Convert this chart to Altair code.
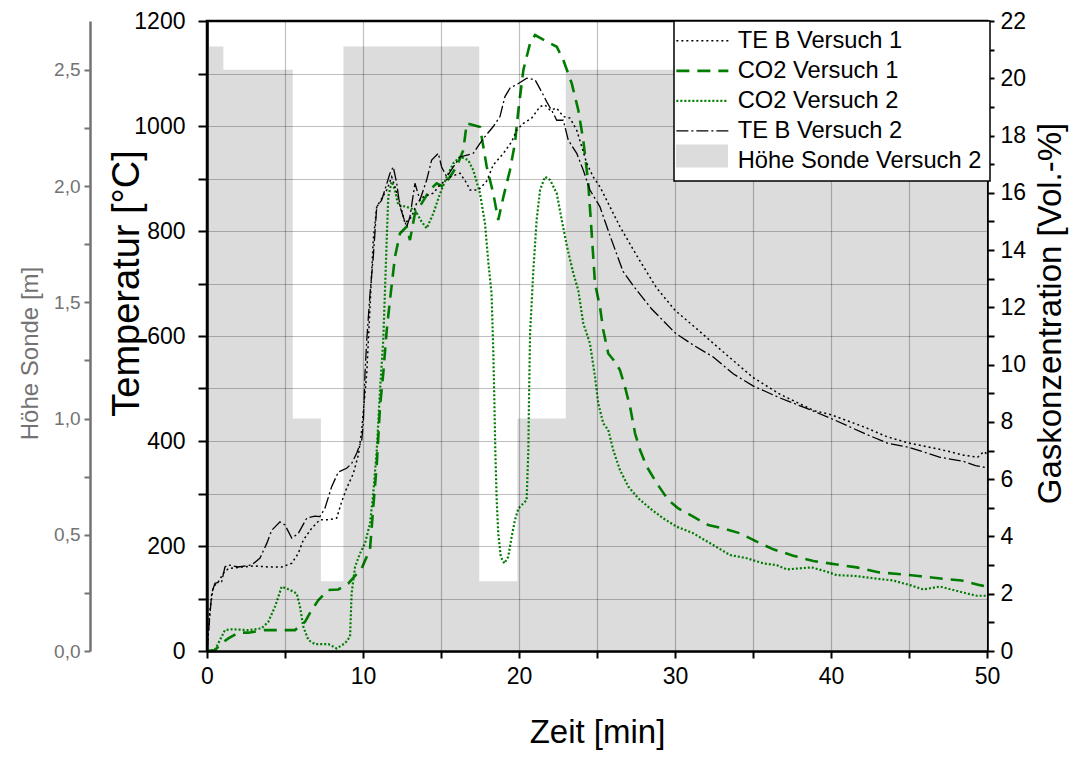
import altair as alt
import pandas as pd

# ---------------- data ----------------
te1_t = [0, 0.19, 0.4, 0.73, 1.05, 1.37, 2.22, 3.08, 3.93, 4.79, 5.43, 5.85, 6.17, 6.71, 7.24, 7.78, 8.31, 8.63, 8.95, 9.38,
         9.7, 9.92, 10.24, 10.45, 10.66, 10.88, 11.2, 11.52, 11.84, 12.26, 12.69, 13.12, 13.44, 13.87, 14.5, 14.94, 15.58, 16.22,
         16.65, 16.86, 17.4, 17.93, 18.35, 19.0, 19.53, 19.85, 20.28, 20.81, 21.35, 21.67, 21.99, 22.42, 22.84, 23.27, 23.7,
         24.02, 24.34, 24.76, 25.19, 26.46, 27.53, 28.81, 30.0, 31.38, 32.88, 35.0, 36.73, 38.9, 40.0, 42.1, 43.6, 45.0, 47.0,
         48.5, 49.4, 49.8, 50.0]
te1_v = [2, 78, 122, 132, 148, 157, 160, 162, 160, 160, 167, 186, 211, 234, 250, 250, 253, 284, 310, 338,
         373, 421, 529, 656, 783, 846, 862, 878, 903, 865, 815, 827, 853, 865, 872, 888, 903, 910,
         891, 878, 878, 895, 926, 948, 970, 992, 1005, 1015, 1037, 1040, 1030, 1034, 1018, 1015, 992,
         961, 929, 903, 884, 809, 754, 692, 649, 614, 575, 521, 489, 458, 450, 427, 408, 396, 384,
         373, 369, 380, 375]

te2_t = [0, 0.3, 0.51, 0.94, 1.15, 1.37, 2.0, 2.87, 3.4, 3.83, 4.15, 4.68, 5.0, 5.43, 5.85, 6.39, 6.92, 7.24, 7.56, 7.99,
         8.42, 8.95, 9.27, 9.6, 9.92, 10.02, 10.13, 10.24, 10.45, 10.66, 10.88, 11.2, 11.73, 11.94, 12.16, 12.37, 12.8, 13.01,
         13.33, 13.65, 14.08, 14.4, 14.83, 15.04, 15.37, 15.79, 16.22, 17.07, 17.71, 18.35, 18.78, 19.1, 19.42, 19.96, 20.5,
         21.03, 21.45, 21.78, 22.2, 22.42, 22.84, 23.16, 23.7, 24.12, 24.55, 25.19, 25.81, 26.67, 27.42, 28.49, 30.0, 31.16,
         32.45, 33.73, 35.0, 36.73, 38.45, 40.0, 42.1, 43.6, 45.0, 47.0, 48.5, 49.26, 50.0]
te2_v = [0, 110, 129, 132, 160, 164, 160, 164, 177, 205, 230, 246, 240, 215, 224, 253, 257, 256, 272, 313,
         341, 348, 357, 377, 402, 434, 529, 592, 681, 751, 846, 859, 910, 922, 891, 846, 808, 827,
         891, 859, 897, 935, 948, 922, 903, 922, 941, 948, 976, 999, 1018, 1056, 1072, 1081, 1091,
         1088, 1065, 1046, 1024, 1011, 1011, 973, 948, 916, 878, 846, 793, 723, 692, 652, 606, 583,
         560, 528, 505, 482, 462, 443, 415, 396, 388, 369, 361, 353, 349]

co1_t = [0, 0.5, 0.94, 1.37, 2.0, 2.65, 3.72, 5.2, 5.64, 6.28, 6.71, 7.14, 7.78, 8.42, 9.06, 9.92, 10.45, 10.66, 10.88,
         11.09, 11.3, 11.52, 11.73, 12.05, 12.37, 12.8, 13.01, 13.33, 13.76, 14.29, 14.72, 15.15, 15.58, 16.0, 16.43, 16.65,
         17.29, 17.5, 17.93, 18.35, 18.67, 19.0, 19.42, 19.74, 19.96, 20.28, 20.71, 21.03, 21.67, 22.42, 22.84, 23.38, 23.8,
         24.12, 24.44, 24.66, 24.87, 25.19, 25.4, 25.72, 26.15, 26.47, 26.79, 27.12, 27.44, 27.76, 28.19, 28.83, 29.57, 30.21,
         31.17, 32.13, 33.1, 34.17, 35.24, 36.3, 37.58, 38.87, 40.26, 41.65, 43.03, 44.31, 45.6, 46.88, 48.38, 49.55, 50.0]
co1_v = [0, 0.03, 0.27, 0.44, 0.64, 0.64, 0.73, 0.73, 0.73, 1.02, 1.43, 1.78, 2.13, 2.15, 2.36, 2.89, 3.56, 5.04, 6.5,
         8.53, 9.7, 11.2, 12.26, 13.77, 14.58, 14.82, 14.35, 15.28, 15.63, 16.1, 16.33, 16.21, 16.56, 16.91, 17.49, 18.43,
         18.33, 18.3, 16.91, 15.98, 15.05, 15.86, 16.79, 17.73, 18.89, 20.29, 21.22, 21.51, 21.31, 21.1, 20.64, 19.82, 18.89,
         17.84, 16.33, 14.58, 12.84, 12.02, 11.21, 10.39, 10.1, 9.81, 9.23, 8.53, 7.6, 7.02, 6.44, 5.86, 5.27, 4.98,
         4.69, 4.4, 4.28, 4.11, 3.82, 3.55, 3.33, 3.14, 3.03, 2.92, 2.75, 2.69, 2.62, 2.54, 2.46, 2.3, 2.25]

co2_t = [0, 0.5, 0.83, 1.15, 1.58, 2.65, 3.5, 3.93, 4.36, 4.79, 5.32, 5.75, 5.96, 6.17, 6.5, 6.92, 7.78, 8.31, 8.85, 9.17,
         9.27, 9.49, 9.81, 10.13, 10.45, 10.66, 10.88, 11.09, 11.3, 11.41, 11.52, 11.62, 11.84, 12.05, 12.26, 12.8, 13.33,
         13.76, 14.08, 14.51, 14.94, 15.37, 15.79, 16.22, 16.75, 17.07, 17.5, 17.82, 18.04, 18.24, 18.35, 18.42, 18.48,
         18.57, 18.67, 18.83, 19.06, 19.31, 19.53, 19.74, 19.96, 20.49, 20.6, 20.64, 20.71, 20.92, 21.13, 21.35, 21.67,
         21.99, 22.42, 22.74, 23.08, 23.48, 23.8, 24.12, 24.55, 24.87, 25.08, 25.4, 25.72, 26.04, 26.47, 27.01, 27.65,
         28.4, 29.25, 30.11, 31.17, 32.45, 33.53, 34.6, 35.66, 36.52, 37.16, 38.76, 39.72, 40.36, 41.54, 42.71, 44.0,
         45.06, 45.92, 46.99, 47.84, 48.7, 49.34, 50.0]
co2_v = [0, 0.03, 0.38, 0.73, 0.76, 0.73, 0.79, 1.02, 1.55, 2.25, 2.13, 2.01, 1.55, 0.85, 0.38, 0.24, 0.24, 0.09, 0.27, 0.5,
         2.01, 2.94, 3.41, 3.76, 4.46, 5.51, 7.0, 9.11, 10.86, 12.6, 14.35, 15.86, 16.39, 16.1, 15.57, 15.51, 15.4,
         14.99, 14.76, 15.28, 15.98, 16.56, 17.03, 17.26, 17.14, 16.79, 15.98, 14.93, 13.54, 12.49, 10.51, 8.76, 7.02,
         5.27, 4.11, 3.29, 3.06, 3.29, 3.99, 4.57, 4.98, 5.27, 7.02, 8.76, 11.09, 13.3, 15.05, 16.1, 16.56,
         16.45, 15.98, 15.05, 14.12, 13.19, 12.6, 11.44, 10.74, 9.58, 8.65, 7.95, 7.72, 7.02, 6.32, 5.74, 5.33,
         4.98, 4.63, 4.34, 4.11, 3.7, 3.35, 3.24, 3.06, 3.0, 2.85, 2.92, 2.77, 2.65, 2.62, 2.54, 2.46,
         2.3, 2.15, 2.25, 2.13, 2.01, 1.93, 1.93]

# probe height (step function)
h_t = [0, 1.05, 5.5, 7.3, 8.75, 17.45, 19.9, 23.0, 50]
h_v = [2.6, 2.5, 1.0, 0.3, 2.6, 0.3, 1.0, 2.5, 2.5]

series = ["TE B Versuch 1", "CO2 Versuch 1", "CO2 Versuch 2", "TE B Versuch 2", "Höhe Sonde Versuch 2"]
colors = ["#000000", "#007d00", "#007d00", "#000000", "#dcdcdc"]
dashes = [[2, 3], [13, 8], [2, 2], [12, 3, 2, 3], [1, 0]]
widths = [1.5, 2.6, 2.2, 1.3, 1.0]
area_name = [series[4]]
area_color = ["#dcdcdc"]

x_ticks = list(range(0, 51, 5))
t_ticks = list(range(0, 1201, 100))
c_ticks = list(range(0, 23))
h_ticks = [0, 0.25, 0.5, 0.75, 1.0, 1.25, 1.5, 1.75, 2.0, 2.25, 2.5]

# ---------------- tables ----------------
temp_df = pd.concat([
    pd.DataFrame({"t": te1_t, "v": te1_v, "s": series[0]}),
    pd.DataFrame({"t": te2_t, "v": te2_v, "s": series[3]}),
])
gas_df = pd.concat([
    pd.DataFrame({"t": co1_t, "v": co1_v, "s": series[1]}),
    pd.DataFrame({"t": co2_t, "v": co2_v, "s": series[2]}),
])
h_df = pd.DataFrame({"t": h_t, "v": h_v, "a": series[4]})

FONT = "Liberation Sans"

color_enc = alt.Color("s:N", scale=alt.Scale(domain=series, range=colors),
                      legend=alt.Legend(title=None, orient="none", legendX=467, legendY=0,
                                        symbolType="M-8.75,0H17.25", symbolSize=16,
                                        labelFontSize=23.7, labelFont=FONT, labelColor="black",
                                        fillColor="white", strokeColor="black", padding=8,
                                        rowPadding=5, labelOffset=32, labelLimit=400, zindex=1))
dash_enc = alt.StrokeDash("s:N", scale=alt.Scale(domain=series, range=dashes), legend=alt.Legend(title=None))
width_enc = alt.StrokeWidth("s:N", scale=alt.Scale(type="ordinal", domain=series, range=widths),
                            legend=alt.Legend(title=None))

x_enc = alt.X("t:Q", scale=alt.Scale(domain=[0, 50], nice=False),
              axis=alt.Axis(values=x_ticks,
                            labelExpr="datum.value % 10 === 0 ? datum.label : ''",
                            labelFlush=False,
                            title="Zeit [min]", titleFontSize=33, titleFont=FONT, titleFontWeight="normal",
                            titleX=390, titleY=81, titleBaseline="middle", titleAlign="center",
                            labelFontSize=23, labelFont=FONT, labelColor="black", labelPadding=7,
                            tickSize=7, tickWidth=2, tickColor="black",
                            domainColor="black", domainWidth=2.5,
                            grid=True, gridColor="black", gridOpacity=0.25, gridWidth=1.2, zindex=1))

area = alt.Chart(h_df).mark_area(interpolate="step-after").encode(
    x=x_enc,
    y=alt.Y("v:Q", scale=alt.Scale(domain=[0, 2.71], nice=False, zero=True),
            axis=alt.Axis(orient="left", offset=117, values=h_ticks,
                          labelExpr="datum.value * 2 % 1 === 0 ? replace(format(datum.value, '.1f'), '.', ',') : ''",
                          title="Höhe Sonde [m]", titleFontSize=24, titleFont=FONT, titleFontWeight="normal",
                          titleColor="#737373", titleAngle=270, titleX=-60, titleY=332,
                          titleBaseline="middle", titleAlign="center",
                          labelFontSize=19, labelFont=FONT, labelColor="#737373", labelPadding=4,
                          tickSize=6, tickWidth=2, tickColor="#737373",
                          domainColor="#737373", domainWidth=2.5, grid=False)),
    fill=alt.Fill("a:N", scale=alt.Scale(domain=area_name, range=area_color),
                  legend=alt.Legend(title=None, orient="none", legendX=469, legendY=109,
                                    symbolType="M-1,-0.44H1V0.44H-1Z", symbolSize=2704,
                                    symbolStrokeWidth=0, symbolOpacity=1,
                                    labelExpr="''", labelFontSize=1, padding=0,
                                    strokeColor="transparent", zindex=3)),
)

temp = alt.Chart(temp_df).mark_line().encode(
    x=x_enc,
    y=alt.Y("v:Q", scale=alt.Scale(domain=[0, 1200], nice=False),
            axis=alt.Axis(orient="left", values=t_ticks,
                          labelExpr="datum.value % 200 === 0 ? format(datum.value, 'd') : ''",
                          title="Temperatur [°C]", titleFontSize=38, titleFont=FONT, titleFontWeight="normal",
                          titleColor="black", titleAngle=270, titleX=-80, titleY=262,
                          titleBaseline="middle", titleAlign="center",
                          labelFontSize=23, labelFont=FONT, labelColor="black", labelPadding=13,
                          tickSize=9, tickWidth=2, tickColor="black",
                          domainColor="black", domainWidth=2.5,
                          grid=True, gridColor="black", gridOpacity=0.25, gridWidth=1.2, zindex=1)),
    color=color_enc,
    strokeDash=dash_enc,
    strokeWidth=width_enc,
    detail="s:N",
)

gas = alt.Chart(gas_df).mark_line().encode(
    x=x_enc,
    y=alt.Y("v:Q", scale=alt.Scale(domain=[0, 22], nice=False),
            axis=alt.Axis(orient="right", values=c_ticks,
                          labelExpr="datum.value % 2 === 0 ? datum.label : ''",
                          title="Gaskonzentration [Vol.-%]", titleFontSize=33, titleFont=FONT,
                          titleFontWeight="normal", titleColor="black", titleAngle=270,
                          titleX=63, titleY=292, titleBaseline="middle", titleAlign="center",
                          labelFontSize=23, labelFont=FONT, labelColor="black", labelPadding=6,
                          tickSize=7, tickWidth=2, tickColor="black",
                          domainColor="black", domainWidth=2.5, grid=False)),
    color=color_enc,
    strokeDash=dash_enc,
    strokeWidth=width_enc,
    detail="s:N",
)

chart = alt.layer(area, gas, temp).resolve_scale(
    y="independent"
).properties(
    width=780, height=630,
    padding={"left": 199, "top": 13, "right": 83, "bottom": 99},
    autosize=alt.AutoSizeParams(type="none"),
).configure(
    font=FONT, background="white"
).configure_view(
    stroke="black", strokeWidth=2.5
).configure_legend(
    strokeWidth=1.5
)

chart.save("out.html", embed_options={"renderer": "svg", "actions": False})
